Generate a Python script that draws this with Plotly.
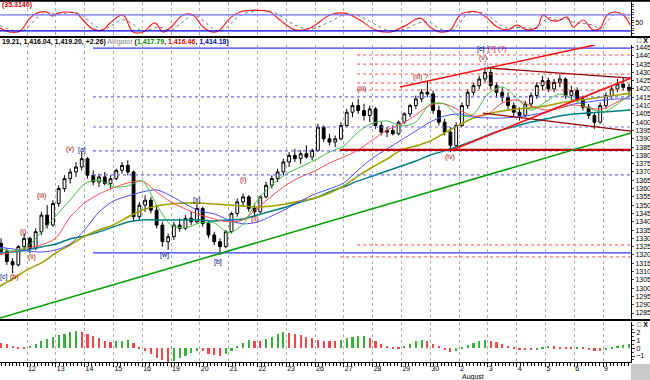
import plotly.graph_objects as go
from plotly.subplots import make_subplots

# ---------------- data ----------------
DAY_LABELS = ["9", "12", "13", "14", "15", "16", "19", "20", "21", "22", "23",
              "26", "27", "28", "29", "30", "2", "3", "4", "5", "6", "9"]
BARS_PER_DAY = 5

OPEN = [1327, 1322, 1316, 1314, 1325, 1330, 1324, 1334, 1344, 1338,
        1351, 1360, 1366, 1370, 1373, 1378, 1368, 1364, 1367, 1363,
        1366, 1371, 1374, 1370, 1343, 1350, 1353, 1347, 1338, 1328,
        1331, 1338, 1336, 1342, 1340, 1348, 1339, 1332, 1328, 1325,
        1334, 1345, 1352, 1355, 1348, 1346, 1355, 1362, 1366, 1370,
        1376, 1380, 1378, 1381, 1379, 1383, 1397, 1390, 1388, 1390,
        1398, 1406, 1410, 1407, 1404, 1408, 1398, 1394, 1395, 1393,
        1400, 1405, 1410, 1414, 1418, 1417, 1407, 1400, 1394, 1386,
        1398, 1410, 1418, 1422, 1426, 1430, 1422, 1418, 1415, 1410,
        1406, 1404, 1411, 1416, 1422, 1425, 1420, 1424, 1426, 1416,
        1419, 1414, 1409, 1404, 1400, 1410, 1416, 1420, 1423, 1421]
HIGH = [1330, 1324, 1318, 1326, 1333, 1331, 1336, 1346, 1350, 1353,
        1362, 1368, 1372, 1376, 1382, 1379, 1371, 1369, 1370, 1368,
        1372, 1376, 1377, 1371, 1352, 1356, 1355, 1350, 1340, 1333,
        1340, 1342, 1344, 1346, 1352, 1349, 1341, 1334, 1330, 1335,
        1346, 1354, 1357, 1356, 1351, 1356, 1364, 1368, 1372, 1378,
        1382, 1384, 1383, 1386, 1384, 1399, 1398, 1393, 1392, 1400,
        1408, 1412, 1414, 1411, 1410, 1409, 1400, 1397, 1398, 1401,
        1406, 1411, 1416, 1420, 1425, 1419, 1410, 1402, 1397, 1400,
        1412, 1420, 1424, 1428, 1433, 1432, 1424, 1421, 1418, 1412,
        1409, 1413, 1418, 1424, 1428, 1427, 1426, 1429, 1427, 1422,
        1421, 1416, 1411, 1406, 1412, 1418, 1422, 1426, 1427, 1423]
LOW = [1320, 1314, 1309, 1313, 1323, 1321, 1323, 1332, 1336, 1337,
       1349, 1358, 1363, 1367, 1371, 1366, 1362, 1361, 1362, 1360,
       1365, 1369, 1368, 1340, 1341, 1346, 1345, 1336, 1325, 1323,
       1329, 1334, 1335, 1338, 1339, 1337, 1330, 1326, 1320, 1324,
       1333, 1343, 1349, 1346, 1343, 1345, 1354, 1360, 1364, 1368,
       1373, 1376, 1375, 1378, 1377, 1382, 1388, 1386, 1385, 1389,
       1397, 1403, 1405, 1401, 1400, 1396, 1392, 1391, 1392, 1392,
       1399, 1403, 1408, 1412, 1415, 1405, 1398, 1392, 1382, 1385,
       1397, 1408, 1416, 1420, 1424, 1420, 1415, 1412, 1408, 1403,
       1401, 1403, 1409, 1414, 1419, 1418, 1418, 1421, 1414, 1413,
       1412, 1407, 1402, 1396, 1399, 1408, 1414, 1418, 1419, 1416]
CLOSE = [1322, 1316, 1314, 1325, 1330, 1324, 1334, 1344, 1338, 1351,
         1360, 1366, 1370, 1373, 1378, 1368, 1364, 1367, 1363, 1366,
         1371, 1374, 1370, 1343, 1350, 1353, 1347, 1338, 1328, 1331,
         1338, 1336, 1342, 1340, 1348, 1339, 1332, 1328, 1325, 1334,
         1345, 1352, 1355, 1348, 1346, 1355, 1362, 1366, 1370, 1376,
         1380, 1378, 1381, 1379, 1383, 1397, 1390, 1388, 1390, 1398,
         1406, 1410, 1407, 1404, 1408, 1398, 1394, 1395, 1393, 1400,
         1405, 1410, 1414, 1418, 1417, 1407, 1400, 1394, 1386, 1398,
         1410, 1418, 1422, 1426, 1430, 1422, 1418, 1415, 1410, 1406,
         1404, 1411, 1416, 1422, 1425, 1420, 1424, 1426, 1416, 1419,
         1414, 1409, 1404, 1400, 1410, 1416, 1420, 1423, 1421, 1419]

# moving-average lines sampled every half day
MA_X = [i * 0.5 for i in range(45)]
MA_GREEN = [1324.2, 1322.4, 1324.8, 1333.9, 1343.5, 1353.1, 1362.8, 1365.2, 1361.0, 1361.6,
            1364.6, 1350.1, 1338.1, 1336.3, 1339.3, 1339.3, 1333.3, 1338.7, 1353.1, 1362.2,
            1368.8, 1373.0, 1377.2, 1382.0, 1385.7, 1394.1, 1399.5, 1400.7, 1397.7, 1400.1,
            1411.0, 1411.0, 1403.7, 1404.9, 1417.0, 1421.2, 1414.6, 1407.3, 1412.2, 1417.0,
            1413.4, 1408.6, 1406.1, 1411.0, 1417.6]
MA_RED = [1320.0, 1321.8, 1324.2, 1326.0, 1330.2, 1342.9, 1351.3, 1356.7, 1360.4, 1363.4,
          1364.6, 1357.9, 1351.9, 1347.7, 1344.1, 1341.7, 1339.9, 1341.1, 1348.3, 1355.5,
          1362.2, 1367.0, 1370.6, 1375.4, 1379.0, 1383.3, 1389.3, 1395.3, 1398.9, 1404.3,
          1410.4, 1411.0, 1407.3, 1403.7, 1404.9, 1411.6, 1413.4, 1409.8, 1407.3, 1408.6,
          1410.4, 1408.6, 1408.0, 1412.2, 1416.4]
MA_BLUE = [1324.8, 1323.6, 1322.4, 1321.8, 1323.0, 1326.6, 1335.1, 1345.9, 1352.5, 1355.5,
           1357.9, 1359.2, 1355.5, 1350.7, 1346.5, 1344.7, 1341.1, 1338.7, 1339.9, 1343.5,
           1347.7, 1352.5, 1356.7, 1359.8, 1363.4, 1371.2, 1378.4, 1383.9, 1389.3, 1394.7,
           1400.1, 1403.7, 1404.9, 1403.1, 1402.5, 1402.5, 1403.1, 1404.3, 1406.1, 1408.6,
           1411.0, 1412.2, 1413.4, 1414.0, 1414.0]
MA_OLIVE = [1300.7, 1305.5, 1311.0, 1315.2, 1321.2, 1326.0, 1331.4, 1335.1, 1338.1, 1342.9,
            1347.1, 1349.5, 1350.7, 1351.3, 1351.3, 1350.7, 1350.1, 1349.5, 1348.9, 1349.5,
            1350.7, 1352.5, 1354.3, 1357.3, 1361.6, 1367.6, 1373.0, 1377.8, 1383.3, 1385.7,
            1388.7, 1393.5, 1398.3, 1402.5, 1404.9, 1406.7, 1407.9, 1408.6, 1409.8, 1411.6,
            1412.8, 1414.0, 1415.2, 1416.4, 1417.6]
MA_TEAL = [1321.2, 1321.8, 1323.0, 1324.8, 1326.6, 1329.6, 1331.4, 1333.9, 1336.9, 1339.9,
           1341.1, 1341.1, 1341.1, 1341.1, 1341.1, 1340.5, 1341.1, 1341.7, 1344.1, 1346.5,
           1348.9, 1351.9, 1354.3, 1358.0, 1361.0, 1364.6, 1367.6, 1370.6, 1373.6, 1376.6,
           1380.2, 1382.7, 1385.7, 1388.7, 1392.3, 1395.3, 1397.7, 1400.1, 1401.9, 1403.7,
           1404.9, 1405.5, 1406.1, 1406.7, 1407.3]

# stochastic oscillator (top panel)
STOCH_X = [0.06, 0.41, 0.76, 1.10, 1.35, 1.69, 1.87, 2.08, 2.39, 2.74,
           2.94, 3.29, 3.64, 3.88, 4.33, 4.68, 5.03, 5.44, 5.72, 5.97,
           6.42, 6.76, 7.11, 7.46, 7.70, 8.05, 8.40, 8.92, 9.44, 9.78,
           10.31, 10.83, 11.52, 12.04, 12.56, 13.08, 13.60, 14.12, 14.65, 14.99,
           15.34, 15.69, 16.03, 16.28, 16.63, 16.97, 17.32, 17.67, 18.01, 18.36,
           18.71, 18.92, 19.16, 19.40, 19.75, 19.96, 20.31, 20.65, 20.90, 21.14,
           21.42, 21.70, 21.94]
STOCH_K = [31, 16, 20, 68, 87, 91, 76, 87, 91, 84,
           61, 27, 24, 50, 80, 16, 16, 50, 16, 31,
           80, 80, 35, 16, 24, 68, 91, 98, 91, 61,
           24, 31, 80, 87, 61, 24, 16, 39, 68, 35,
           16, 24, 80, 91, 91, 69, 35, 24, 42, 24,
           35, 80, 61, 57, 72, 35, 61, 24, 31, 80,
           91, 80, 42]
STOCH_D = [40, 25, 17, 40, 70, 88, 85, 82, 88, 88,
           75, 45, 25, 36, 62, 45, 18, 32, 32, 22,
           55, 80, 60, 28, 18, 45, 78, 94, 95, 78,
           42, 27, 55, 82, 75, 45, 20, 27, 52, 52,
           28, 20, 50, 85, 92, 82, 52, 30, 33, 32,
           30, 55, 70, 60, 65, 52, 48, 42, 28, 55,
           85, 86, 62]
STOCH_LEVELS = [80, 20]

# histogram (bottom panel), one value per price bar
HIST = [0.7, 0.5, 0.3, 0.2, 0.2, 0.3, 0.6, 0.9, 1.2, 1.5,
        1.7, 1.9, 2.1, 2.2, 2.1, 1.9, 1.6, 1.3, 1.0, 0.8,
        0.9, 1.0, 1.05, 0.7, 0.1, -0.4, -0.8, -1.2, -1.5, -1.8,
        -1.6, -1.3, -1.0, -0.6, -0.3, -0.4, -0.7, -0.9, -1.0, -0.8,
        -0.3, 0.3, 0.7, 1.1, 1.0, 0.9, 1.2, 1.5, 1.8, 2.1,
        2.05, 1.9, 1.7, 1.5, 1.3, 1.1, 1.0, 0.95, 0.9, 1.1,
        1.3, 1.45, 1.55, 1.6, 1.4, 1.0, 0.6, 0.3, 0.1, 0.05,
        0.3, 0.6, 0.9, 1.1, 0.9, 0.6, 0.3, -0.2, -0.5, -0.4,
        0.1, 0.4, 0.7, 0.9, 1.1, 1.0, 0.8, 0.6, 0.3, 0.1,
        -0.1, -0.2, -0.25, -0.1, 0.2, 0.3, 0.25, 0.2, 0.15, 0.1,
        0.12, 0.05, -0.2, -0.35, -0.4, -0.2, 0.1, 0.3, 0.4, 0.5]

# trend lines: (day0, price0, day1, price1)
TL_SUPPORT_GREEN = (0.06, 1282.0, 21.97, 1393.5)
TL_RED_UPPER = (13.95, 1421.2, 20.72, 1446.5)
TL_RED_LOWER = (15.76, 1383.3, 21.97, 1426.6)
TL_MAROON_UPPER = (16.97, 1432.7, 21.97, 1426.6)
TL_MAROON_LOWER = (16.83, 1405.5, 21.97, 1394.6)
# horizontal levels: price, start day
BLUE_SOLID = [(1444.6, 3.29), (1321.2, 3.29)]
BLUE_DOTTED = [(1415.2, 3.29), (1397.1, 3.29), (1382.7, 3.29), (1368.2, 3.29)]
RED_DOTTED = [(1440.5, 12.46), (1435.0, 12.46), (1429.0, 12.46), (1423.6, 12.46),
              (1419.4, 12.46), (1326.0, 12.46), (1318.8, 11.87)]
RED_THICK = [(1383.3, 11.87)]

# wave labels: text, day, price, colour
NAVY, MAROON = "#000080", "#a00000"
LABELS = [("[c]", 0.17, 1306.7, NAVY), ("(b)", 0.55, 1306.7, MAROON),
          ("(i)", 0.86, 1333.9, MAROON), ("(ii)", 1.17, 1318.8, MAROON),
          ("(iii)", 1.52, 1355.5, MAROON), ("(v)", 2.49, 1383.9, MAROON),
          ("[a]", 2.91, 1383.3, NAVY), ("[w]", 5.79, 1320.0, NAVY),
          ("[x]", 6.87, 1353.1, NAVY), ("[b]", 7.63, 1315.8, NAVY),
          ("(i)", 8.50, 1365.2, MAROON), ("(ii)", 8.92, 1341.7, MAROON),
          ("(iii)", 12.63, 1420.0, MAROON), ("(iii) ?", 14.65, 1427.2, MAROON),
          ("(iv)", 15.69, 1379.0, MAROON), ("(v)", 16.83, 1438.7, MAROON),
          ("[c]", 16.76, 1444.3, NAVY), ("[?]", 17.13, 1444.3, "#cc0000"),
          ("(?)", 17.50, 1444.3, "#cc0000")]

# ---------------- figure ----------------
X_BARS = [d + (j + 0.5) / BARS_PER_DAY for d in range(len(DAY_LABELS)) for j in range(BARS_PER_DAY)]
X_END = 21.97
X_START = 0.0625

fig = make_subplots(rows=3, cols=1, shared_xaxes=True, vertical_spacing=0)

FONT = "Liberation Sans, Arial, sans-serif"

# top: stochastic
for lv, col in zip(STOCH_LEVELS, ["#7070ff", "#0000dd"]):
    fig.add_shape(type="line", xref="x", yref="y", x0=X_START, x1=X_END, y0=lv, y1=lv,
                  line=dict(color=col, width=1.3))
fig.add_trace(go.Scatter(x=STOCH_X, y=STOCH_D, mode="lines", line=dict(color="#777777", width=1, dash="dot", shape="spline"),
                         showlegend=False), row=1, col=1)
fig.add_trace(go.Scatter(x=STOCH_X, y=STOCH_K, mode="lines", line=dict(color="#ff2020", width=1.2, shape="spline"),
                         showlegend=False), row=1, col=1)

# main: levels
for p, s in BLUE_DOTTED:
    fig.add_shape(type="line", xref="x2", yref="y2", x0=s, x1=X_END, y0=p, y1=p,
                  line=dict(color="#6a6aff", width=1.2, dash="dot"))
for p, s in RED_DOTTED:
    fig.add_shape(type="line", xref="x2", yref="y2", x0=s, x1=X_END, y0=p, y1=p,
                  line=dict(color="#ff5050", width=1, dash="dot"))
for p, s in BLUE_SOLID:
    fig.add_shape(type="line", xref="x2", yref="y2", x0=s, x1=X_END, y0=p, y1=p,
                  line=dict(color="#3a3aff", width=1.3))
for p, s in RED_THICK:
    fig.add_shape(type="line", xref="x2", yref="y2", x0=s, x1=X_END, y0=p, y1=p,
                  line=dict(color="#c00000", width=2.2))

for tl, col, w in [(TL_SUPPORT_GREEN, "#00a000", 1.6), (TL_RED_UPPER, "#ff1010", 1.6),
                   (TL_RED_LOWER, "#ff1010", 1.6), (TL_MAROON_UPPER, "#990000", 1.3),
                   (TL_MAROON_LOWER, "#990000", 1.3)]:
    fig.add_shape(type="line", xref="x2", yref="y2", x0=tl[0], y0=tl[1], x1=tl[2], y1=tl[3],
                  line=dict(color=col, width=w))

for ys, col, w in [(MA_TEAL, "#008080", 1.5), (MA_OLIVE, "#a0a000", 1.6),
                   (MA_BLUE, "#4a4aff", 1), (MA_RED, "#ff4a4a", 1), (MA_GREEN, "#40c040", 1)]:
    fig.add_trace(go.Scatter(x=MA_X, y=ys, mode="lines", line=dict(color=col, width=w, shape="spline", smoothing=0.8),
                             showlegend=False, hoverinfo="skip"), row=2, col=1)

fig.add_trace(go.Candlestick(x=X_BARS, open=OPEN, high=HIGH, low=LOW, close=CLOSE,
                             increasing=dict(line=dict(color="black", width=1), fillcolor="white"),
                             decreasing=dict(line=dict(color="black", width=1), fillcolor="black"),
                             whiskerwidth=0, showlegend=False), row=2, col=1)

for t, d, p, c in LABELS:
    fig.add_annotation(x=d, y=p, xref="x2", yref="y2", text=t, showarrow=False,
                       font=dict(size=7, color=c, family=FONT))

# bottom: histogram
hcolors = []
for i, v in enumerate(HIST):
    rising = i > 0 and v > HIST[i - 1]
    hcolors.append("#3cae3c" if rising else "#f04848")
fig.add_trace(go.Bar(x=X_BARS, y=HIST, marker=dict(color=hcolors, line=dict(width=0)), width=0.075,
                     showlegend=False), row=3, col=1)

# ---------------- layout ----------------
H_PLOT = 362.0

def pf(py):
    return 1 - py / H_PLOT

tickvals = list(range(len(DAY_LABELS)))
common_x = dict(range=[X_START, X_END], showgrid=True, gridcolor="#b0b0b0", griddash="dot", gridwidth=1,
                tickmode="array", tickvals=tickvals, zeroline=False, rangeslider=dict(visible=False))
fig.update_layout(
    width=650, height=380, margin=dict(l=0, r=19, t=0, b=18, autoexpand=False),
    paper_bgcolor="white", plot_bgcolor="white", showlegend=False, bargap=0,
    font=dict(family=FONT, size=7, color="black"),
    xaxis=dict(**common_x, showticklabels=False, ticks=""),
    xaxis2=dict(**common_x, showticklabels=False, ticks=""),
    xaxis3=dict(**common_x, ticktext=DAY_LABELS, showticklabels=True, ticks="outside", ticklen=4,
                tickcolor="black", ticklabelposition="outside right", showline=True, linecolor="black",
                tickfont=dict(size=7), automargin=False,
                minor=dict(ticks="outside", ticklen=3, tickmode="linear", tick0=0, dtick=0.125, tickcolor="black",
                           showgrid=False)),
    yaxis=dict(domain=[pf(37), pf(2)], range=[-2.6, 128.5], side="right", showgrid=False, zeroline=False,
               tickvals=[50], ticks="outside", ticklen=2, showline=True, linecolor="black", automargin=False,
               minor=dict(ticks="outside", ticklen=2, dtick=10)),
    yaxis2=dict(domain=[pf(320), pf(45)], range=[1280.8, 1446.5], side="right", showgrid=False, zeroline=False,
                tickmode="linear", tick0=1285, dtick=5, ticks="outside", ticklen=2, showline=True,
                linecolor="black", automargin=False, tickfont=dict(size=7)),
    yaxis3=dict(domain=[0, pf(322)], range=[-1.78, 3.42], side="right", showgrid=False, zeroline=False,
                tickvals=[-1, 0, 1, 2], ticks="outside", ticklen=3, showline=True, linecolor="black",
                automargin=False, minor=dict(ticks="outside", ticklen=2, dtick=0.5)),
)

XR = 1 + 19 / 631.0
# panel separators
for py, w in [(0.8, 2), (37, 2), (320, 2)]:
    fig.add_shape(type="line", xref="paper", yref="paper", x0=0, x1=XR, y0=pf(py), y1=pf(py),
                  line=dict(color="black", width=w))
# gray corner box
fig.add_shape(type="rect", xref="paper", yref="paper", x0=1.0, x1=XR, y0=pf(364), y1=pf(380),
              fillcolor="#c8c8c8", line=dict(width=0))

fig.add_annotation(xref="paper", yref="paper", x=0, y=pf(5), xanchor="left", yanchor="middle",
                   text="<b>(35.3140)</b>", showarrow=False, font=dict(size=7, color="#dd0000"))
fig.add_annotation(xref="paper", yref="paper", x=0, y=pf(42), xanchor="left", yanchor="middle", showarrow=False,
                   text=("<b>19.21, 1,416.04, 1,419.20, +2.26)</b> <span style='color:#888888'>Alligator</span> "
                         "<b>(<span style='color:#008800'>1,417.79</span>, <span style='color:#dd0000'>1,416.46</span>, "
                         "<span style='color:#0000cc'>1,414.18</span>)</b>"),
                   font=dict(size=7, color="black"))
for py in [41, 324]:
    fig.add_annotation(xref="paper", yref="paper", x=XR, y=pf(py), xanchor="right", yanchor="middle",
                       text="<b>□ X</b>", showarrow=False, font=dict(size=7, color="black"))
fig.add_annotation(xref="x3", yref="paper", x=16.03, y=pf(377), xanchor="left", yanchor="middle",
                   text="August", showarrow=False, font=dict(size=7, color="black"))

fig.write_html("out.html", config={"displayModeBar": False},
               post_script="document.body.style.margin='0px';document.body.style.overflow='hidden';")
